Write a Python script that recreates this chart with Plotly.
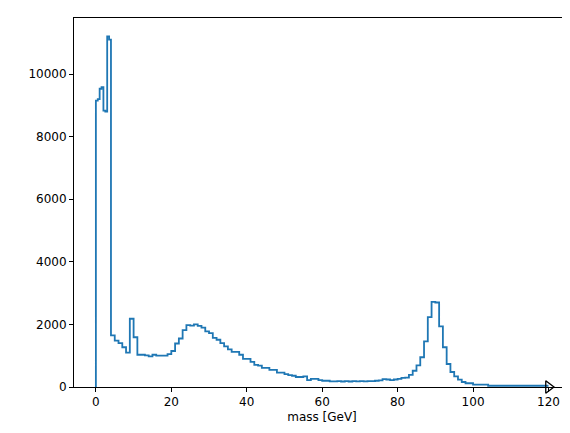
import plotly.graph_objects as go

# bin edges (0.5 GeV below 4 GeV, 1 GeV above) and counts
low_edges = [0, 0.5, 1, 1.5, 2, 2.5, 3, 3.5]
low_counts = [9150, 9200, 9530, 9580, 8830, 8800, 11200, 11100]
high_counts = [
    1650, 1480, 1400, 1270, 1100, 2180, 1590, 1030, 1030, 1010,   # 4-13
    980, 1030, 1000, 1000, 1000, 1050, 1150, 1390, 1550, 1820,    # 14-23
    1980, 1960, 2000, 1950, 1900, 1780, 1720, 1570, 1510, 1400,   # 24-33
    1300, 1200, 1120, 1120, 1030, 900, 900, 800, 710, 680,        # 34-43
    610, 610, 550, 550, 460, 460, 410, 380, 360, 320,             # 44-53
    320, 340, 220, 260, 260, 220, 200, 200, 180, 180,             # 54-63
    185, 175, 190, 175, 185, 180, 185, 180, 185, 190,             # 64-73
    200, 210, 250, 240, 220, 240, 260, 290, 300, 390,             # 74-83
    520, 690, 950, 1460, 2230, 2720, 2700, 1940, 1270, 735,       # 84-93
    480, 340, 235, 160, 120, 120, 75, 75, 75, 75,                 # 94-103
    40, 40, 40, 40, 40, 40, 40, 40, 40, 40, 40, 40, 40, 40, 40, 40,  # 104-119
]
high_edges = list(range(4, 120))
y_ticks = [0, 2000, 4000, 6000, 8000, 10000]

edges = low_edges + high_edges + [120]
counts = low_counts + high_counts

xs = [edges[0]] + edges
ys = [0] + counts + [counts[-1]]

fig = go.Figure()
fig.add_trace(go.Scatter(x=xs, y=ys, mode="lines", line_shape="hv",
                         line=dict(color="#1f77b4", width=1.8), showlegend=False))
fig.add_trace(go.Scatter(x=[120], y=[0], mode="markers", cliponaxis=False,
                         marker=dict(symbol="triangle-right-open", size=11,
                                     color="black", line=dict(width=1.3)),
                         showlegend=False))

axis = dict(showgrid=False, zeroline=False, showline=True, mirror=True,
            linecolor="black", linewidth=1, ticks="outside", ticklen=4,
            tickcolor="black", tickfont=dict(size=12, color="black"),
            automargin=False)
fig.update_layout(
    width=570, height=433, plot_bgcolor="white", paper_bgcolor="white",
    margin=dict(l=66, r=8, t=10, b=54),
    font=dict(family="DejaVu Sans", color="black"),
    xaxis=dict(axis, range=[-5.8, 125.7], tickvals=[0, 20, 40, 60, 80, 100, 120],
               title=dict(text="mass [GeV]", font=dict(size=12), standoff=4)),
    yaxis=dict(axis, range=[0, 11790], tickvals=y_ticks,
               ticktext=[str(t) for t in y_ticks]),
)
fig.write_html("out.html")
